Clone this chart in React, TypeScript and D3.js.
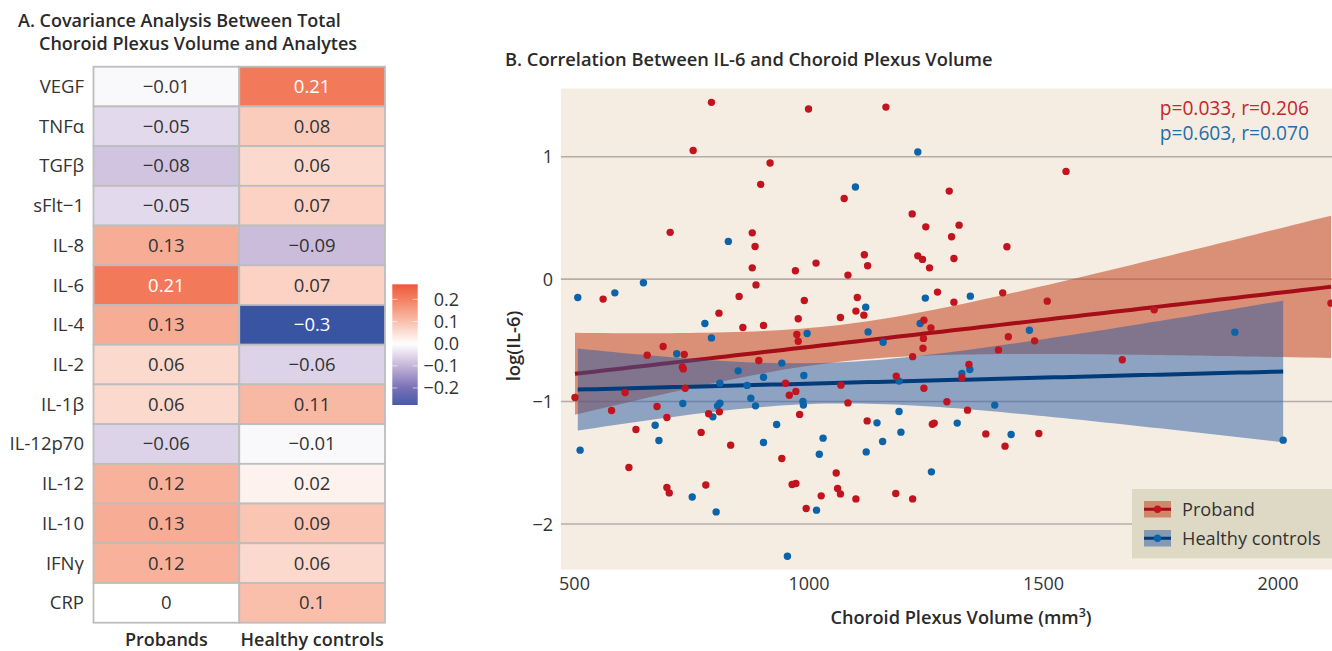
import React from "react";
import * as d3 from "d3";

// ---------- Panel A data ----------
const analytes = ["VEGF", "TNFα", "TGFβ", "sFlt−1", "IL-8", "IL-6", "IL-4", "IL-2", "IL-1β", "IL-12p70", "IL-12", "IL-10", "IFNγ", "CRP"];
const groups = ["Probands", "Healthy controls"];
const probandCov = [-0.01, -0.05, -0.08, -0.05, 0.13, 0.21, 0.13, 0.06, 0.06, -0.06, 0.12, 0.13, 0.12, 0];
const controlCov = [0.21, 0.08, 0.06, 0.07, -0.09, 0.07, -0.3, -0.06, 0.11, -0.01, 0.02, 0.09, 0.06, 0.1];
const colorbarTicks = [0.2, 0.1, 0.0, -0.1, -0.2];

// ---------- Panel B data ----------
const probandX = [792, 999, 1164, 753, 917, 897, 1075, 1220, 704, 879, 885, 1118, 1232, 1125, 879, 971, 1015, 1083, 1548, 1299, 1249, 1320, 1304, 1422, 1242, 1309, 1257, 561, 887, 851, 990, 1103, 1100, 1117, 808, 1067, 977, 859, 903, 974, 977, 689, 655, 734, 730, 732, 893, 1221, 950, 736, 608, 972, 958, 1068, 501, 1083, 676, 579, 697, 786, 809, 980, 1124, 631, 770, 833, 1186, 616, 697, 702, 780, 942, 964, 972, 1026, 994, 1058, 1061, 1067, 1100, 1185, 1221, 1274, 1309, 1413, 1508, 1245, 1260, 1244, 1243, 1425, 1481, 1404, 1736, 2113, 1668, 1341, 1326, 1245, 1294, 1338, 1263, 1267, 1377, 1490, 1418];
const probandY = [1.444, 1.389, 1.405, 1.051, 0.948, 0.774, 0.659, 0.533, 0.382, 0.378, 0.267, 0.199, 0.19, 0.109, 0.092, 0.068, 0.131, 0.033, 0.88, 0.719, 0.427, 0.441, 0.346, 0.264, 0.161, 0.169, 0.092, -0.163, -0.047, -0.141, -0.174, -0.15, -0.261, -0.294, -0.278, -0.313, -0.324, -0.395, -0.378, -0.452, -0.507, -0.55, -0.621, -0.615, -0.717, -0.733, -0.664, -0.633, -0.85, -0.891, -0.926, -0.917, -0.948, -0.866, -0.966, -1.011, -1.04, -1.073, -1.13, -1.1, -1.084, -1.105, -1.158, -1.228, -1.252, -1.356, -0.792, -1.538, -1.702, -1.746, -1.681, -1.465, -1.677, -1.669, -1.77, -1.873, -1.583, -1.71, -1.754, -1.795, -1.751, -1.795, -0.106, -0.188, -0.112, -0.18, -0.335, -0.398, -0.484, -0.564, -0.471, -0.504, -0.578, -0.251, -0.196, -0.659, -0.697, -0.806, -0.891, -1.002, -1.07, -1.185, -1.176, -1.264, -1.261, -1.364];
const controlX = [1232, 1099, 828, 647, 507, 586, 1121, 1126, 1158, 778, 792, 996, 1237, 718, 942, 849, 989, 903, 810, 868, 876, 886, 987, 988, 731, 810, 805, 795, 1192, 1192, 672, 1145, 931, 680, 903, 1030, 1157, 1196, 512, 1022, 1122, 751, 802, 1016, 954, 1248, 1344, 1470, 1908, 1326, 1343, 1396, 1316, 1431, 2011, 1261];
const controlY = [1.038, 0.752, 0.308, -0.03, -0.15, -0.112, -0.229, -0.431, -0.515, -0.362, -0.48, -0.444, -0.362, -0.61, -0.686, -0.749, -0.787, -0.801, -0.85, -0.868, -0.972, -1.035, -0.999, -1.029, -1.016, -1.013, -1.035, -1.125, -0.833, -1.081, -1.193, -1.174, -1.187, -1.318, -1.334, -1.299, -1.326, -1.25, -1.397, -1.43, -1.411, -1.779, -1.901, -1.887, -2.263, -0.155, -0.139, -0.417, -0.433, -0.77, -0.738, -1.029, -1.176, -1.269, -1.315, -1.574];
const xTicks = [500, 1000, 1500, 2000];
const yTicks = [1, 0, -1, -2];
const statLabels = ["p=0.033, r=0.206", "p=0.603, r=0.070"];
const legendLabels = ["Proband", "Healthy controls"];

const FONT = "'Open Sans', Lato, sans-serif";

function fit(xs: number[], ys: number[]) {
  const n = xs.length;
  const mx = d3.mean(xs)!;
  const my = d3.mean(ys)!;
  let sxx = 0, sxy = 0;
  for (let i = 0; i < n; i++) {
    sxx += (xs[i] - mx) ** 2;
    sxy += (xs[i] - mx) * (ys[i] - my);
  }
  const b = sxy / sxx;
  const a = my - b * mx;
  let sse = 0;
  for (let i = 0; i < n; i++) sse += (ys[i] - a - b * xs[i]) ** 2;
  const df = n - 2;
  const s = Math.sqrt(sse / df);
  const t = 1.96 + 2.37 / df + 2.8 / (df * df);
  const [x0, x1] = d3.extent(xs) as [number, number];
  return d3.range(0, 81).map((i) => {
    const xv = x0 + ((x1 - x0) * i) / 80;
    const yhat = a + b * xv;
    const se = s * Math.sqrt(1 / n + (xv - mx) ** 2 / sxx);
    return { x: xv, y: yhat, lo: yhat - t * se, hi: yhat + t * se };
  });
}

export default function App() {
  // ---------- Panel A scales ----------
  const xBand = d3.scaleBand().domain(groups).range([93.5, 385]);
  const yBand = d3.scaleBand().domain(analytes).range([66.7, 622.7]);
  const fillScale = d3
    .scaleLinear<string>()
    .domain([-0.3, -0.2, -0.1, 0, 0.1, 0.2, 0.3])
    .range(["#3a54a4", "#7770b6", "#c5b5d8", "#ffffff", "#f9bfab", "#f38061", "#ec4628"])
    .interpolate(d3.interpolateRgb);
  const cbScale = d3.scaleLinear().domain([-0.277, 0.268]).range([405, 284.3]);
  const cbStops = d3.range(0, 41).map((i) => -0.277 + (0.545 * i) / 40);

  const cells: { r: string; c: string; v: number }[] = [];
  analytes.forEach((a, i) => {
    cells.push({ r: a, c: groups[0], v: probandCov[i] });
    cells.push({ r: a, c: groups[1], v: controlCov[i] });
  });
  const fmt = (v: number) => String(v).replace("-", "−");

  // ---------- Panel B scales ----------
  const x = d3.scaleLinear().domain([500, 2000]).range([574.5, 1278]);
  const y = d3.scaleLinear().domain([-2, 1]).range([524, 156.7]);
  const panel = { x0: x(471), x1: x(2160), y0: y(1.557), y1: y(-2.372) };

  const redFit = fit(probandX, probandY);
  const blueFit = fit(controlX, controlY);
  const area = d3
    .area<{ x: number; lo: number; hi: number }>()
    .x((d) => x(d.x))
    .y0((d) => y(d.lo))
    .y1((d) => y(d.hi));
  const line = d3
    .line<{ x: number; y: number }>()
    .x((d) => x(d.x))
    .y((d) => y(d.y));

  const RED_BAND = "rgb(198,82,47)";
  const RED_BAND_OP = 0.6;
  const BLUE_BAND = "rgb(39,89,163)";
  const BLUE_BAND_OP = 0.5;
  const RED_LINE = "#a50d18";
  const BLUE_LINE = "#003b7a";
  const RED_PT = "#c1141e";
  const BLUE_PT = "#0b63aa";
  const TXT = "#333333";
  const TITLE = "#2a2a2a";

  return (
    <svg width={1332} height={651} style={{ position: "absolute", left: 0, top: 0, fontFamily: FONT }}>
      <rect width={1332} height={651} fill="#ffffff" />
      {/* ---------- Panel A ---------- */}
      <text x={18} y={27} fontSize={18} fontWeight={600} fill={TITLE}>A. Covariance Analysis Between Total</text>
      <text x={39} y={50} fontSize={18} fontWeight={600} fill={TITLE}>Choroid Plexus Volume and Analytes</text>
      {cells.map((d, i) => (
        <g key={i}>
          <rect x={xBand(d.c)!} y={yBand(d.r)!} width={xBand.bandwidth()} height={yBand.bandwidth()} fill={fillScale(d.v)} stroke="#bdbdbd" strokeWidth={1.8} />
          <text
            x={xBand(d.c)! + xBand.bandwidth() / 2}
            y={yBand(d.r)! + yBand.bandwidth() / 2 + 6.5}
            textAnchor="middle"
            fontSize={18.5}
            fill={Math.abs(d.v) >= 0.2 ? "#ffffff" : TXT}
          >
            {fmt(d.v)}
          </text>
        </g>
      ))}
      {analytes.map((a) => (
        <text key={a} x={84} y={yBand(a)! + yBand.bandwidth() / 2 + 6.5} textAnchor="end" fontSize={18.5} fill={TXT}>
          {a}
        </text>
      ))}
      {groups.map((g) => (
        <text key={g} x={xBand(g)! + xBand.bandwidth() / 2} y={645.5} textAnchor="middle" fontSize={18} fontWeight={600} fill={TITLE}>
          {g}
        </text>
      ))}
      {/* colorbar */}
      <defs>
        <linearGradient id="cbgrad" x1="0" y1="1" x2="0" y2="0">
          {cbStops.map((v, i) => (
            <stop key={i} offset={i / 40} stopColor={fillScale(v)} />
          ))}
        </linearGradient>
        <clipPath id="panelclip">
          <rect x={panel.x0} y={panel.y0} width={panel.x1 - panel.x0} height={panel.y1 - panel.y0} />
        </clipPath>
      </defs>
      <rect x={392.3} y={284.3} width={25.4} height={405 - 284.3} fill="url(#cbgrad)" />
      {colorbarTicks.map((t) => (
        <g key={t}>
          <line x1={392.3} x2={397.3} y1={cbScale(t)} y2={cbScale(t)} stroke="#ffffff" strokeOpacity={0.6} strokeWidth={1} />
          <line x1={412.7} x2={417.7} y1={cbScale(t)} y2={cbScale(t)} stroke="#ffffff" strokeOpacity={0.6} strokeWidth={1} />
          <text x={459} y={cbScale(t) + 6.3} textAnchor="end" fontSize={18} fill={TXT}>
            {t === 0 ? "0.0" : fmt(t)}
          </text>
        </g>
      ))}

      {/* ---------- Panel B ---------- */}
      <text x={505} y={66} fontSize={18.3} fontWeight={600} fill={TITLE}>B. Correlation Between IL-6 and Choroid Plexus Volume</text>
      <rect x={panel.x0} y={panel.y0} width={panel.x1 - panel.x0} height={panel.y1 - panel.y0} fill="#f5ede1" />
      {yTicks.map((t) => (
        <g key={t}>
          <line x1={panel.x0} x2={panel.x1} y1={y(t)} y2={y(t)} stroke="#b4ada7" strokeWidth={1.6} />
          <text x={553} y={y(t) + 6.5} textAnchor="end" fontSize={18} fill={TXT}>
            {fmt(t)}
          </text>
        </g>
      ))}
      {xTicks.map((t) => (
        <text key={t} x={x(t)} y={590} textAnchor="middle" fontSize={18} fill={TXT}>
          {t}
        </text>
      ))}
      <g clipPath="url(#panelclip)">
        <path d={area(redFit)!} fill={RED_BAND} fillOpacity={RED_BAND_OP} />
        <path d={line(redFit)!} fill="none" stroke={RED_LINE} strokeWidth={4} />
        <path d={area(blueFit)!} fill={BLUE_BAND} fillOpacity={BLUE_BAND_OP} />
        <path d={line(blueFit)!} fill="none" stroke={BLUE_LINE} strokeWidth={4} />
        {controlX.map((v, i) => (
          <circle key={"b" + i} cx={x(v)} cy={y(controlY[i])} r={3.7} fill={BLUE_PT} />
        ))}
        {probandX.map((v, i) => (
          <circle key={"r" + i} cx={x(v)} cy={y(probandY[i])} r={3.7} fill={RED_PT} />
        ))}
      </g>
      <text x={1309} y={115} textAnchor="end" fontSize={19.2} fill="#c4262e">{statLabels[0]}</text>
      <text x={1309} y={140} textAnchor="end" fontSize={19.2} fill="#1f6fae">{statLabels[1]}</text>
      {/* legend */}
      <rect x={1132} y={489} width={220} height={69.3} fill="#ded9c5" />
      {legendLabels.map((l, i) => {
        const ky = 501 + i * 29;
        return (
          <g key={l}>
            <rect x={1144} y={ky} width={27} height={16.5} fill={i === 0 ? RED_BAND : BLUE_BAND} fillOpacity={i === 0 ? RED_BAND_OP : BLUE_BAND_OP} />
            <line x1={1144} x2={1171} y1={ky + 8.25} y2={ky + 8.25} stroke={i === 0 ? RED_LINE : BLUE_LINE} strokeWidth={3} />
            <circle cx={1157.5} cy={ky + 8.25} r={3.7} fill={i === 0 ? RED_PT : BLUE_PT} />
            <text x={1182} y={ky + 15} fontSize={18.2} fill={TXT}>{l}</text>
          </g>
        );
      })}
      <text x={961} y={624} textAnchor="middle" fontSize={18.2} fontWeight={600} fill={TITLE}>
        Choroid Plexus Volume (mm<tspan dy={-7} fontSize={12.5}>3</tspan><tspan dy={7}>)</tspan>
      </text>
      <text transform="translate(520,346) rotate(-90)" textAnchor="middle" fontSize={18.5} fontWeight={600} fill={TITLE}>
        log(IL-6)
      </text>
    </svg>
  );
}
